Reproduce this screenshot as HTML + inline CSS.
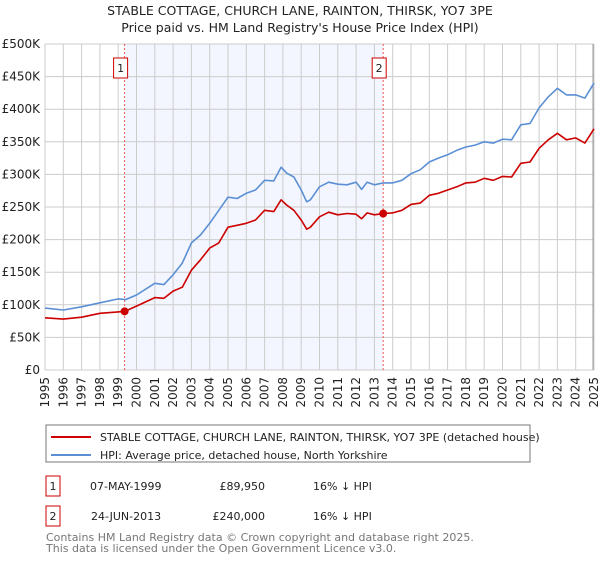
<!DOCTYPE html>
<html><head><meta charset="utf-8"><style>
body{margin:0;background:#fff;font-family:"DejaVu Sans","Liberation Sans",sans-serif;}
svg text{font-family:"DejaVu Sans","Liberation Sans",sans-serif;}
</style></head><body>
<svg id="chart" width="600" height="560" viewBox="0 0 600 560">
<text x="300" y="15" text-anchor="middle" font-size="12.5" fill="#222">STABLE COTTAGE, CHURCH LANE, RAINTON, THIRSK, YO7 3PE</text>
<text x="300" y="32" text-anchor="middle" font-size="12.5" fill="#222">Price paid vs. HM Land Registry's House Price Index (HPI)</text>
<g id="plot"></g>
<rect x="46" y="425" width="484" height="37" fill="#fff" stroke="#777"/>
<line x1="51" y1="437" x2="91" y2="437" stroke="#cc0000" stroke-width="2"/>
<text x="100" y="441" font-size="11" fill="#222">STABLE COTTAGE, CHURCH LANE, RAINTON, THIRSK, YO7 3PE (detached house)</text>
<line x1="51" y1="455" x2="91" y2="455" stroke="#5b8fd4" stroke-width="2"/>
<text x="100" y="459" font-size="11" fill="#222">HPI: Average price, detached house, North Yorkshire</text>
<g font-size="11" fill="#222">
<rect x="46" y="476" width="14" height="20" fill="#fff" stroke="#cc0000"/>
<text x="53" y="490" text-anchor="middle">1</text>
<text x="90" y="490">07-MAY-1999</text>
<text x="265" y="490" text-anchor="end">£89,950</text>
<text x="313" y="490">16% ↓ HPI</text>
</g>
<g font-size="11" fill="#222">
<rect x="46" y="506" width="14" height="20" fill="#fff" stroke="#cc0000"/>
<text x="53" y="520" text-anchor="middle">2</text>
<text x="91" y="520">24-JUN-2013</text>
<text x="265" y="520" text-anchor="end">£240,000</text>
<text x="313" y="520">16% ↓ HPI</text>
</g>
<text x="46" y="541" font-size="11" fill="#777">Contains HM Land Registry data © Crown copyright and database right 2025.</text>
<text x="46" y="552" font-size="11" fill="#777">This data is licensed under the Open Government Licence v3.0.</text>
</svg>
<script>
const hpiYears=[1995,1996,1997,1998,1999,1999.4,2000,2001,2001.5,2002,2002.5,2003,2003.5,2004,2004.5,2005,2005.5,2006,2006.5,2007,2007.5,2007.9,2008.2,2008.6,2009,2009.3,2009.5,2010,2010.5,2011,2011.5,2012,2012.3,2012.6,2013,2013.5,2014,2014.5,2015,2015.5,2016,2016.5,2017,2017.5,2018,2018.5,2019,2019.5,2020,2020.5,2021,2021.5,2022,2022.5,2023,2023.5,2024,2024.5,2025];
const hpiValues=[95,92,97,103,109,108,115,133,131,146,164,195,207,225,245,265,263,271,276,291,290,311,302,296,276,258,261,281,288,285,284,288,277,288,284,287,287,291,301,307,319,325,330,337,342,345,350,348,354,353,376,378,402,419,432,422,422,417,440];
const priceYears=[1995,1996,1997,1998,1999.35,2000,2001,2001.5,2002,2002.5,2003,2003.5,2004,2004.5,2005,2005.5,2006,2006.5,2007,2007.5,2007.9,2008.2,2008.6,2009,2009.3,2009.5,2010,2010.5,2011,2011.5,2012,2012.3,2012.6,2013,2013.48,2014,2014.5,2015,2015.5,2016,2016.5,2017,2017.5,2018,2018.5,2019,2019.5,2020,2020.5,2021,2021.5,2022,2022.5,2023,2023.5,2024,2024.5,2025];
const priceValues=[80,78,81,87,89.95,98,111,110,121,127,153,169,187,195,219,222,225,230,245,243,261,253,245,230,216,219,235,242,238,240,239,232,241,238,240,241,245,254,256,268,271,276,281,287,288,294,291,297,296,317,319,340,353,363,353,356,348,370];
const saleYears=[1999.35,2013.48];
const saleValues=[89.95,240];
const saleLabels=["1","2"];
const yTicks=[0,50,100,150,200,250,300,350,400,450,500];
const yTickLabels=["£0","£50K","£100K","£150K","£200K","£250K","£300K","£350K","£400K","£450K","£500K"];
const xTicks=[1995,1996,1997,1998,1999,2000,2001,2002,2003,2004,2005,2006,2007,2008,2009,2010,2011,2012,2013,2014,2015,2016,2017,2018,2019,2020,2021,2022,2023,2024,2025];

const NS="http://www.w3.org/2000/svg";
const X0=45,X1=594,Y0=370,Y1=44;
const xs=y=>X0+(y-1995)/30*(X1-X0);
const ys=v=>Y0-v/500*(Y0-Y1);
const g=document.getElementById('plot');
function mk(t,a){const e=document.createElementNS(NS,t);for(const k in a)e.setAttribute(k,a[k]);g.appendChild(e);return e;}
let sh=mk('rect',{x:xs(saleYears[0]),y:Y1,width:xs(saleYears[1])-xs(saleYears[0]),height:Y0-Y1,fill:'#f3f6fe'});


yTicks.forEach((v,i)=>{
 const l=mk('line',{x1:X0,x2:X1,y1:ys(v),y2:ys(v),stroke:'#cccccc','stroke-width':1});
 
 
 const t=mk('text',{x:40,y:ys(v)+4,'text-anchor':'end','font-size':'12',fill:'#222'});
 t.textContent=yTickLabels[i];
 
 
});
xTicks.forEach(yr=>{
 const l=mk('line',{x1:xs(yr),x2:xs(yr),y1:Y1,y2:Y0,stroke:'#cccccc','stroke-width':1});
 
 
 const t=mk('text',{x:0,y:0,'text-anchor':'end','font-size':'12',fill:'#222',transform:`translate(${xs(yr)+4},${Y0+7}) rotate(-90)`});
 t.textContent=yr;
 
 
});
let rb=mk('line',{x1:X1-1,x2:X1-1,y1:Y1,y2:Y0,stroke:'#999','stroke-width':1});


saleYears.forEach((yr,i)=>{
 const l=mk('line',{x1:xs(yr),x2:xs(yr),y1:Y1,y2:Y0,stroke:'#ee5555','stroke-width':1,'stroke-dasharray':'2,2'});
 
 
});
function path(xa,va,col,name){
 const d=xa.map((x,i)=>(i?'L':'M')+xs(x).toFixed(1)+','+ys(va[i]).toFixed(1)).join('');
 const p=mk('path',{d:d,fill:'none',stroke:col,'stroke-width':1.6,'stroke-linejoin':'round'});
 
 
}
path(hpiYears,hpiValues,'#5b8fd4','hpi-line');
path(priceYears,priceValues,'#cc0000','price-paid-line');
saleYears.forEach((yr,i)=>{
 const c=mk('circle',{cx:xs(yr),cy:ys(saleValues[i]),r:4,fill:'#cc0000'});
 
 
 const r=mk('rect',{x:xs(yr)-11,y:58,width:14,height:20,fill:'#fff',stroke:'#cc0000'});
 
 
 const t=mk('text',{x:xs(yr)-4,y:72,'text-anchor':'middle','font-size':'11',fill:'#222'});
 t.textContent=saleLabels[i];
 
 
});
</script>
</body></html>
